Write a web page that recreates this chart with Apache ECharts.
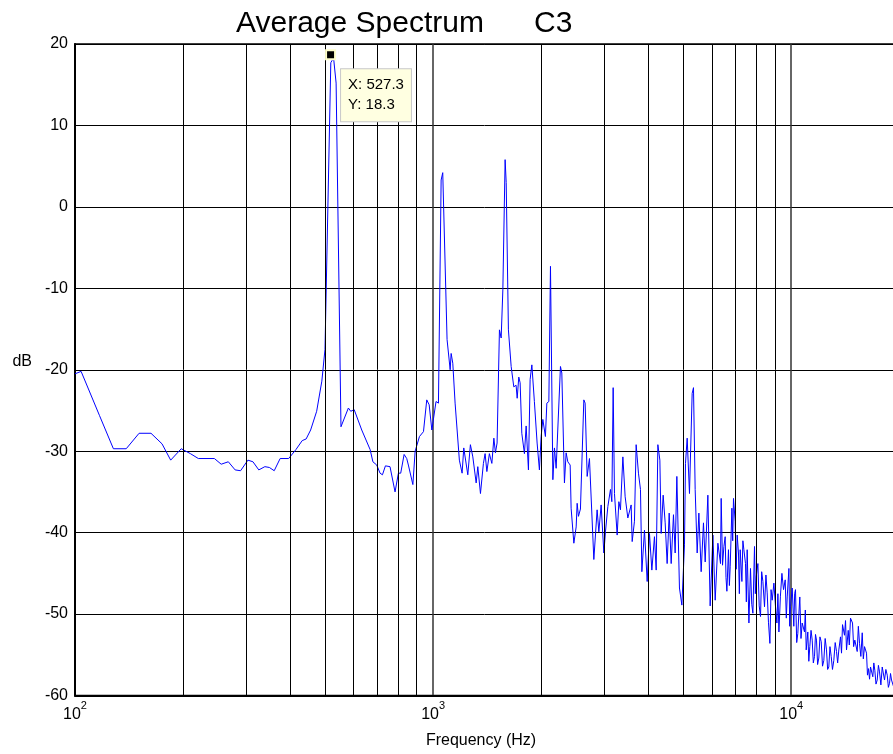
<!DOCTYPE html>
<html>
<head>
<meta charset="utf-8">
<title>Average Spectrum C3</title>
<style>
  html, body { margin: 0; padding: 0; background: #fff; }
  #chart { width: 893px; height: 754px; }
</style>
<script src="https://cdn.jsdelivr.net/npm/echarts@6/dist/echarts.min.js"></script>
</head>
<body>
<div id="chart"></div>
<script>
// spectrum: frequency (Hz) and level (dB)
const FREQ_HZ = [
  100, 104, 117, 128, 139, 151, 163, 175, 185, 198,
  210, 221, 245, 256, 268, 280, 290, 304, 314, 326,
  339, 349, 360, 374, 395, 414, 431, 442, 455, 473,
  489, 499, 518, 527.3, 536, 553, 580, 589, 602, 632,
  667, 679, 696, 711, 722, 736, 758, 783, 800, 812,
  830, 844, 853, 878, 891, 916, 940, 960, 975, 992,
  1019, 1035, 1053, 1064, 1094, 1116, 1123, 1135, 1152, 1165,
  1184, 1205, 1218, 1231, 1250, 1271, 1291, 1319, 1333, 1356,
  1382, 1397, 1413, 1436, 1459, 1478, 1493, 1509, 1532, 1549,
  1566, 1589, 1600, 1623, 1652, 1680, 1705, 1717, 1735, 1750,
  1769, 1799, 1819, 1846, 1866, 1887, 1918, 1952, 1981, 2003,
  2025, 2059, 2078, 2105, 2127, 2160, 2182, 2206, 2268, 2288,
  2327, 2352, 2378, 2414, 2429, 2472, 2509, 2525, 2546, 2579,
  2636, 2658, 2693, 2733, 2811, 2871, 2903, 2946, 2998, 3029,
  3076, 3128, 3156, 3183, 3210, 3266, 3302, 3336, 3388, 3438,
  3498, 3573, 3597, 3650, 3690, 3745, 3794, 3828, 3893, 3961,
  4020, 4082, 4151, 4197, 4243, 4298, 4334, 4390, 4447, 4504,
  4563, 4622, 4691, 4742, 4794, 4875, 4951, 5035, 5067, 5123,
  5199, 5290, 5335, 5393, 5463, 5523, 5605, 5689, 5752, 5852,
  5939, 6044, 6134, 6241, 6347,
  6375, 6430, 6487, 6541, 6575, 6613, 6681, 6720, 6755, 6829,
  6865, 6900, 6975, 7020, 7066, 7125, 7165, 7204, 7283, 7330,
  7377, 7454, 7495, 7535, 7619, 7697, 7760, 7817, 7898, 7940,
  7985, 8072, 8140, 8209, 8270, 8336, 8423, 8500, 8570, 8640,
  8720, 8785, 8850, 8947, 9040, 9121, 9180, 9240, 9330, 9420,
  9518, 9622, 9690, 9747, 9854, 9905, 9956, 10065, 10169, 10225,
  10280, 10360, 10434, 10569, 10650, 10733, 10893, 10950, 11013, 11127,
  11200, 11271, 11360, 11446, 11530, 11617, 11690, 11767, 11850, 11942,
  12030, 12129, 12230, 12333, 12440, 12549, 12640, 12735, 12830, 12934,
  13040, 13152, 13270, 13383, 13480, 13582, 13731, 13820, 13910, 14089,
  14180, 14272, 14428, 14530, 14643, 14833, 14940, 15054, 15288, 15400,
  15516, 15650, 15788, 15900, 16024, 16230, 16330, 16440, 16550, 16653,
  16902, 17010, 17121, 17250, 17386, 17520, 17646, 17800, 17956, 18223,
  18380, 18543, 18680, 18818, 18940, 19062, 19309, 19650, 20000
]
const LEVEL_DB = [
  -20.5, -20.2, -25.6, -29.7, -29.7, -27.8, -27.8, -29.1, -31.1, -29.7,
  -30.3, -30.9, -30.9, -31.6, -31.3, -32.3, -32.4, -31.1, -31.3, -32.3,
  -31.9, -32.0, -32.4, -30.9, -30.9, -29.8, -28.7, -28.5, -27.4, -25.1,
  -21.4, -17.5, 17.7, 18.3, 15.2, -27.0, -24.7, -25.1, -24.9, -27.4,
  -29.8, -31.3, -31.7, -32.7, -32.9, -31.8, -31.9, -35.0, -32.7, -32.7,
  -30.4, -30.9, -31.7, -34.1, -30.0, -28.2, -27.6, -23.7, -24.3, -27.4,
  -23.9, -24.1, 3.3, 4.2, -16.3, -20.0, -18.0, -19.2, -24.1, -24.2,
  -31.1, -32.7, -29.6, -29.5, -32.9, -29.2, -30.7, -33.9, -31.9, -35.2,
  -31.5, -30.3, -32.5, -30.3, -31.5, -28.4, -30.2, -29.0, -15.1, -16.1,
  -10.2, 5.8, 3.0, -15.1, -19.6, -22.1, -21.9, -23.5, -20.9, -21.6,
  -27.8, -30.3, -26.9, -32.3, -21.2, -19.4, -23.9, -29.0, -32.3, -28.2,
  -26.1, -28.2, -24.1, -23.9, -7.3, -33.5, -29.6, -32.1, -19.6, -20.4,
  -33.9, -30.2, -31.3, -31.7, -37.0, -41.3, -39.3, -36.4, -38.0, -37.1,
  -23.7, -24.1, -33.1, -30.9, -43.3, -37.2, -39.9, -36.6, -42.5, -39.9,
  -36.8, -34.7, -36.2, -22.2, -35.2, -40.3, -36.2, -37.2, -30.7, -35.6,
  -38.2, -36.6, -41.1, -38.6, -29.2, -32.7, -34.7, -44.8, -39.7, -46.0,
  -40.1, -44.6, -40.5, -44.6, -29.2, -31.1, -40.1, -35.4, -38.8, -43.8,
  -37.6, -43.8, -37.8, -42.5, -33.1, -46.8, -48.9, -41.5, -31.5, -28.4,
  -35.2, -22.9, -22.2, -34.7, -42.5, -37.6, -44.8, -38.8, -43.6, -35.4,
  -49.0, -40.3, -48.3, -41.3, -43.8,
  -35.8, -44.0, -41.7, -40.5, -45.5, -47.2, -42.1, -46.5, -44.2, -37.0,
  -41.0, -35.8, -38.6, -44.5, -40.3, -42.5, -47.5, -42.1, -46.0, -41.0,
  -42.1, -43.8, -48.5, -42.1, -51.1, -44.4, -48.8, -49.9, -41.7, -47.5,
  -45.4, -43.8, -49.0, -50.3, -44.8, -46.0, -49.1, -45.2, -47.4, -51.0,
  -53.6, -47.0, -48.3, -46.2, -49.1, -51.1, -47.5, -52.2, -47.8, -45.0,
  -47.0, -45.8, -50.5, -47.9, -44.4, -51.5, -49.1, -46.8, -51.5, -47.5,
  -47.0, -53.5, -52.4, -47.9, -53.0, -51.1, -52.2, -49.5, -54.4, -52.2,
  -55.8, -54.0, -52.0, -53.2, -56.0, -55.2, -52.5, -53.2, -56.2, -55.4,
  -52.8, -53.4, -56.4, -55.7, -53.0, -54.4, -56.8, -56.5, -54.0, -55.2,
  -56.8, -55.7, -53.5, -54.6, -56.0, -54.4, -52.8, -54.8, -51.3, -52.6,
  -50.8, -54.4, -52.0, -53.8, -50.5, -51.1, -54.0, -53.2, -54.6, -51.5,
  -53.6, -55.2, -52.3, -55.5, -54.0, -54.8, -57.5, -56.7, -58.0, -56.5,
  -57.7, -56.0, -56.9, -58.6, -58.1, -56.3, -57.1, -58.7, -56.5, -58.1,
  -56.8, -57.5, -59.0, -58.5, -57.3, -58.1, -58.9, -58.0, -59.3
]

// axis ranges
const X_MIN = 100
const X_MAX = 20000
const Y_MIN = -60
const Y_MAX = 20
const Y_STEP = 10
// 2..9 in each decade, drawn as vertical grid lines
const MINOR_GRID_HZ = [200, 300, 400, 500, 600, 700, 800, 900,
  2000, 3000, 4000, 5000, 6000, 7000, 8000, 9000]

// data tip on the main peak
const TIP_X = 527.3
const TIP_Y = 18.3

const FONT = 'Liberation Sans, Arial, Helvetica, sans-serif'

const chart = echarts.init(document.getElementById('chart'))

const titleStyle = { fontFamily: FONT, fontSize: 30, fontWeight: 'normal', color: '#000' }

const option = {
  animation: false,
  backgroundColor: '#fff',
  title: [
    { text: 'Average Spectrum', left: 236, top: 9, padding: 0, textStyle: titleStyle },
    { text: 'C3', left: 534, top: 9, padding: 0, textStyle: titleStyle }
  ],
  grid: {
    left: 75,
    top: 44,
    width: 824, // axis runs a few px past the right edge of the window
    height: 651.5,
    outerBoundsMode: 'none',
    show: true,
    borderColor: '#000',
    borderWidth: 1.5,
    backgroundColor: '#fff'
  },
  xAxis: {
    type: 'log',
    logBase: 10,
    min: X_MIN,
    max: X_MAX,
    name: 'Frequency (Hz)',
    nameLocation: 'middle',
    nameGap: 37,
    nameMoveOverlap: false,
    nameTextStyle: { fontFamily: FONT, fontSize: 16, color: '#000', padding: [0, 12, 0, 0] },
    axisLine: { show: true, onZero: false, lineStyle: { color: '#000', width: 2 } },
    axisTick: { show: false },
    axisLabel: {
      margin: 5,
      color: '#000',
      showMinLabel: true,
      showMaxLabel: true,
      formatter: function (v) {
        const e = Math.log10(v)
        if (Math.abs(e - Math.round(e)) > 1e-6) return ''
        return '{b|10}{s|' + Math.round(e) + '}'
      },
      rich: {
        b: { fontFamily: FONT, fontSize: 16, color: '#000', lineHeight: 22, verticalAlign: 'bottom' },
        s: { fontFamily: FONT, fontSize: 11, color: '#000', verticalAlign: 'top' }
      }
    },
    splitLine: { show: true, lineStyle: { color: '#333', width: 1.5 } }
  },
  yAxis: {
    type: 'value',
    min: Y_MIN,
    max: Y_MAX,
    interval: Y_STEP,
    name: 'dB',
    nameLocation: 'middle',
    nameRotate: 0,
    nameGap: 43,
    nameMoveOverlap: false,
    nameTextStyle: { fontFamily: FONT, fontSize: 16, color: '#000', align: 'right', verticalAlign: 'bottom' },
    axisLine: { show: true, lineStyle: { color: '#000', width: 2 } },
    axisTick: { show: false },
    axisLabel: { margin: 7, color: '#000', fontFamily: FONT, fontSize: 16 },
    splitLine: { show: true, lineStyle: { color: '#000', width: 1 } }
  },
  series: [
    {
      // minor log grid lines only, kept under the trace
      type: 'line',
      z: 1,
      data: [],
      silent: true,
      markLine: {
        silent: true,
        animation: false,
        symbol: ['none', 'none'],
        label: { show: false },
        lineStyle: { color: '#000', width: 1, type: 'solid' },
        emphasis: { disabled: true },
        data: MINOR_GRID_HZ.map(v => ({ xAxis: v }))
      }
    },
    {
      name: 'C3',
      type: 'line',
      z: 3,
      data: FREQ_HZ.map((f, i) => [f, LEVEL_DB[i]]),
      showSymbol: false,
      symbol: 'none',
      clip: true,
      lineStyle: { color: '#0000ff', width: 1 },
      emphasis: { disabled: true },
      markPoint: {
        silent: true,
        animation: false,
        symbol: 'rect',
        symbolSize: 9,
        symbolOffset: [-3, -3],
        itemStyle: { color: '#000', borderColor: '#ffffcc', borderWidth: 2 },
        label: {
          show: true,
          position: [16, 20],
          align: 'left',
          verticalAlign: 'top',
          fontFamily: FONT,
          fontSize: 15,
          lineHeight: 20,
          color: '#000',
          backgroundColor: '#ffffe1',
          borderColor: '#c8c8c8',
          borderWidth: 1,
          padding: [6, 7, 6, 7],
          formatter: 'X: ' + TIP_X + '\nY: ' + TIP_Y
        },
        data: [{ coord: [TIP_X, TIP_Y] }]
      }
    }
  ]
}

chart.setOption(option)
</script>
</body>
</html>
